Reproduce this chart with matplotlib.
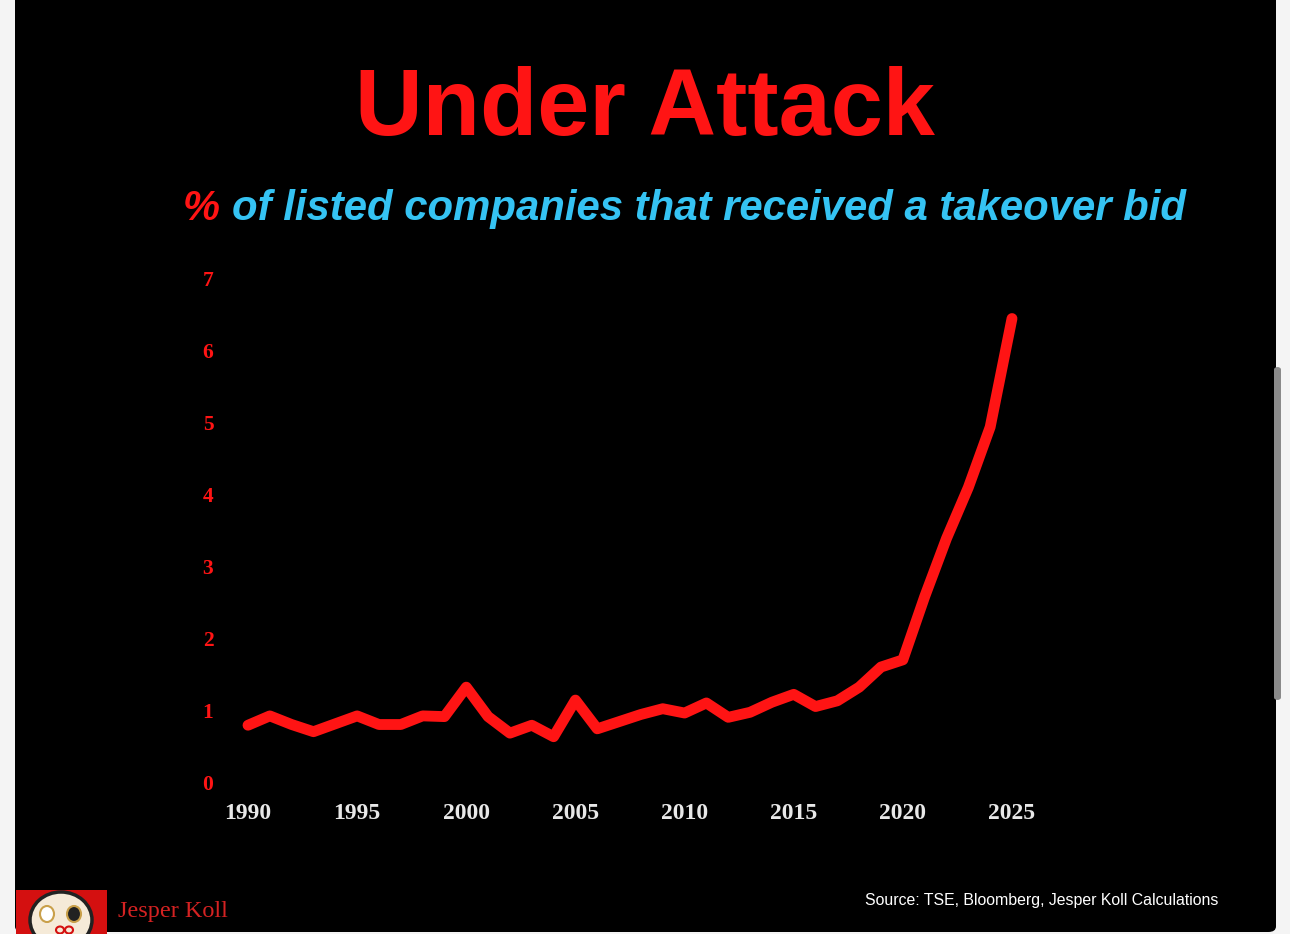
"""Under Attack — % of listed companies that received a takeover bid."""
import matplotlib
matplotlib.use("Agg")
import matplotlib.pyplot as plt
import matplotlib.patches as mpatches

W, H, DPI = 1290, 934, 100
ROUGE, BLEU, BLANC = "#ff1414", "#35c3f3", "#e8e8e8"

years = list(range(1990, 2026))
pct = [0.79, 0.92, 0.80, 0.70, 0.81, 0.92, 0.80, 0.80, 0.92, 0.91,
       1.32, 0.91, 0.68, 0.79, 0.63, 1.14, 0.74, 0.84, 0.94, 1.02,
       0.96, 1.10, 0.90, 0.97, 1.11, 1.22, 1.05, 1.13, 1.32, 1.60,
       1.70, 2.58, 3.39, 4.10, 4.94, 6.45]
xticks = [1990, 1995, 2000, 2005, 2010, 2015, 2020, 2025]
yticks = [0, 1, 2, 3, 4, 5, 6, 7]

fig = plt.figure(figsize=(W / DPI, H / DPI), dpi=DPI, facecolor="#f4f4f4")


def px(x0, y0, x1, y1):
    # pixel box (top-left origin) -> figure fraction [l, b, w, h]
    return [x0 / W, 1 - y1 / H, (x1 - x0) / W, (y1 - y0) / H]


# black slide + scrollbar of the screenshot
l, b, w, h = px(15, -10, 1276, 932)
fig.patches.append(mpatches.FancyBboxPatch((l, b), w, h, boxstyle="round,pad=0,rounding_size=0.006",
                                           transform=fig.transFigure, fc="black", ec="none", zorder=-10))
l, b, w, h = px(1274, 367, 1281, 700)
fig.patches.append(mpatches.FancyBboxPatch((l, b), w, h, boxstyle="round,pad=0,rounding_size=0.003",
                                           transform=fig.transFigure, fc="#8a8a8a", ec="none", zorder=-9))

# the chart
ax = fig.add_axes(px(248, 279, 1012, 782))
ax.set_facecolor("none")
ax.plot(years, pct, color=ROUGE, lw=7.8, solid_joinstyle="round", solid_capstyle="round", clip_on=False)
ax.set_xlim(1990, 2025)
ax.set_ylim(0, 7)
for s in ax.spines.values():
    s.set_visible(False)
ax.set_xticks(xticks)
ax.set_xticklabels([str(t) for t in xticks], family="Liberation Serif", weight="bold",
                   fontsize=17, color=BLANC)
ax.set_yticks(yticks)
ax.set_yticklabels([str(t) for t in yticks], family="Liberation Serif", weight="bold",
                   fontsize=15.5, color=ROUGE)
ax.tick_params(axis="x", length=0, pad=15)
ax.tick_params(axis="y", length=0, pad=25)

# titles
fig.text(645 / W, 1 - 135 / H, "Under Attack", ha="center", va="baseline", color=ROUGE,
         family="Liberation Sans", weight="bold", fontsize=67.5)
r = fig.canvas.get_renderer()
t1 = fig.text(183 / W, 1 - 220 / H, "%", ha="left", va="baseline", color=ROUGE,
              family="Liberation Sans", weight="bold", style="italic", fontsize=30)
bb = t1.get_window_extent(r)
fig.text(bb.x1 / W + 12 / W, 1 - 220 / H, "of listed companies that received a takeover bid",
         ha="left", va="baseline", color=BLEU, family="Liberation Sans", weight="bold",
         style="italic", fontsize=30.2)

# footer
fig.text(1218 / W, 1 - 901 / H, "Source: TSE, Bloomberg, Jesper Koll Calculations", ha="right",
         va="center", color="white", family="Liberation Sans", fontsize=11.4)
fig.text(118 / W, 1 - 911 / H, "Jesper Koll", ha="left", va="center", color="#d42222",
         family="Liberation Serif", fontsize=17.5)

# small daruma logo
lg = fig.add_axes(px(16, 890, 107, 934))
lg.set_xlim(0, 91); lg.set_ylim(44, 0); lg.axis("off")
lg.add_patch(mpatches.Rectangle((0, 0), 91, 44, fc="#d41010", ec="none"))
lg.add_patch(mpatches.Ellipse((45, 30), 62, 56, fc="#f5ead8", ec="#222222", lw=2.5))
lg.add_patch(mpatches.Ellipse((31, 24), 14, 16, fc="white", ec="#c9a04a", lw=1.5))
lg.add_patch(mpatches.Ellipse((58, 24), 14, 16, fc="#222222", ec="#c9a04a", lw=1.5))
lg.add_patch(mpatches.Ellipse((44, 40), 8, 7, fc="none", ec="#d41010", lw=1.5))
lg.add_patch(mpatches.Ellipse((53, 40), 8, 7, fc="none", ec="#d41010", lw=1.5))

fig.savefig("out.png", dpi=DPI, facecolor=fig.get_facecolor())
